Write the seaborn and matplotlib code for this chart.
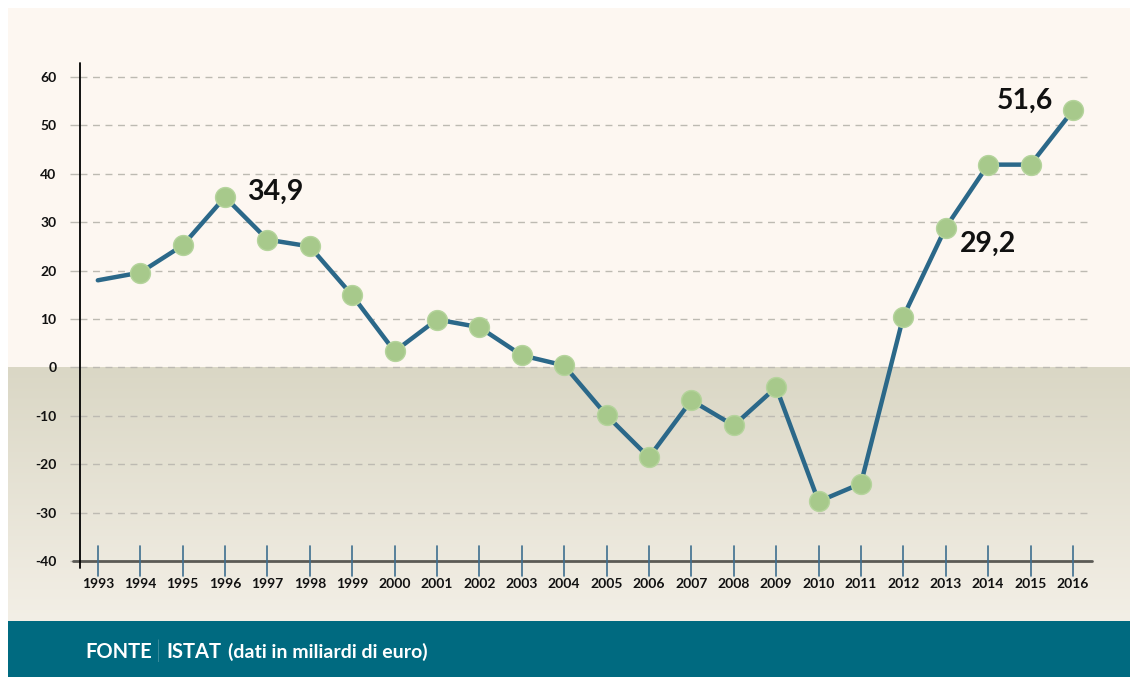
import matplotlib.pyplot as plt
import matplotlib.patches as mpatches
from matplotlib.colors import LinearSegmentedColormap
import seaborn as sns
import numpy as np
import pandas as pd

# Saldo (miliardi di euro) - ISTAT
years = list(range(1993, 2017))
values = [18.0, 19.6, 25.2, 35.2, 26.4, 25.0, 14.9, 3.3, 9.9, 8.3, 2.5, 0.4,
          -9.9, -18.6, -6.8, -12.0, -4.1, -27.7, -24.0, 10.5, 28.9, 41.9, 41.9, 53.1]
labels = {1996: "34,9", 2013: "29,2", 2016: "51,6"}
yticks = [-40, -30, -20, -10, 0, 10, 20, 30, 40, 50, 60]

df = pd.DataFrame({"anno": years, "valore": values})

sns.set_theme(style="white")
plt.rcParams['font.family'] = ['Lato', 'DejaVu Sans']

W, H = 1130, 677
fig = plt.figure(figsize=(W / 100, H / 100), dpi=100)
fig.patch.set_facecolor("white")

# background layer in pixel coordinates
bg = fig.add_axes([0, 0, 1, 1], zorder=0)
bg.axis("off")

ax = fig.add_axes([80 / W, 1 - 561 / H, (1092 - 80) / W, (561 - 63) / H], zorder=1)
ax.set_facecolor("none")
ax.set_xlim(1992.58, 2016.45)
ax.set_ylim(-40, 62.9)

# pixel row of the zero line
zero_px = H - ax.transData.transform((2000, 0))[1]
footer_top = 621

bg.add_patch(mpatches.Rectangle((8, 8), W - 8, zero_px - 8, color="#fdf7f1", lw=0))
grad = np.linspace(0, 1, 256).reshape(-1, 1)
cmap = LinearSegmentedColormap.from_list("g", ["#dad7c5", "#f3efe6"])
bg.imshow(grad, cmap=cmap, aspect="auto", extent=(8, W, footer_top, zero_px))
bg.add_patch(mpatches.Rectangle((8, footer_top), W - 8, H - footer_top, color="#006a80", lw=0))
bg.set_xlim(0, W)
bg.set_ylim(H, 0)

# gridlines
for t in yticks[1:]:
    ax.axhline(t, color="#bdbab2", lw=1, ls=(0, (5, 4)), zorder=1)

sns.lineplot(data=df, x="anno", y="valore", ax=ax, color="#2b6889", lw=3.2,
             zorder=3, legend=False)
sns.scatterplot(data=df[df["anno"] > 1993], x="anno", y="valore", ax=ax, s=205,
                color="#a7c98b", edgecolor="#b5d49c", linewidth=1, zorder=4, legend=False)

# value labels
offsets = {1996: (16, 4, "left"), 2013: (10, -12, "left"), 2016: (-14, 7, "right")}
for yr, txt in labels.items():
    v = df.loc[df["anno"] == yr, "valore"].iloc[0]
    dx, dy, ha = offsets[yr]
    ax.annotate(txt, (yr, v), xytext=(dx, dy), textcoords="offset points",
                ha=ha, va="center", fontsize=20.5, fontweight="bold", color="#111111")

sns.despine(ax=ax, top=True, right=True, left=True, bottom=True)

# axes lines
ax.plot([-0.007, 1.0], [0, 0], transform=ax.transAxes, color="#5b5a55", lw=2,
        clip_on=False, zorder=2)
ax.plot([0, 0], [-0.014, 1.0], transform=ax.transAxes, color="black", lw=1.3,
        clip_on=False, zorder=2)

ax.set_yticks(yticks)
ax.set_yticklabels([str(t) for t in yticks], fontsize=10, fontweight="bold", color="#111111")
ax.set_xticks(years)
ax.set_xticklabels([str(y) for y in years], fontsize=10, fontweight="bold", color="#111111")
ax.tick_params(axis="y", length=7, width=1, color="#bdbab2", pad=10, left=True)
ax.tick_params(axis="x", length=0, pad=12)
for yr in years:
    ax.plot([yr, yr], [-0.03, 0.03], transform=ax.get_xaxis_transform(),
            color="#3f6f8f", lw=1.2, clip_on=False, zorder=2)
ax.set_xlabel("")
ax.set_ylabel("")

fig.text(85 / W, 1 - 652 / H, "FONTE", color="white", fontsize=14.5,
         fontweight="bold", va="center", ha="left")
fig.text(158 / W, 1 - 651 / H, "|", color="#c9dce2", fontsize=17,
         fontweight="light", va="center", ha="center")
fig.text(166 / W, 1 - 652 / H, "ISTAT", color="white",
         fontsize=14.5, fontweight="bold", va="center", ha="left")
fig.text(228 / W, 1 - 652 / H, "(dati in miliardi di euro)", color="white",
         fontsize=14, fontweight="bold", va="center", ha="left")

fig.savefig("out.png", dpi=100)
